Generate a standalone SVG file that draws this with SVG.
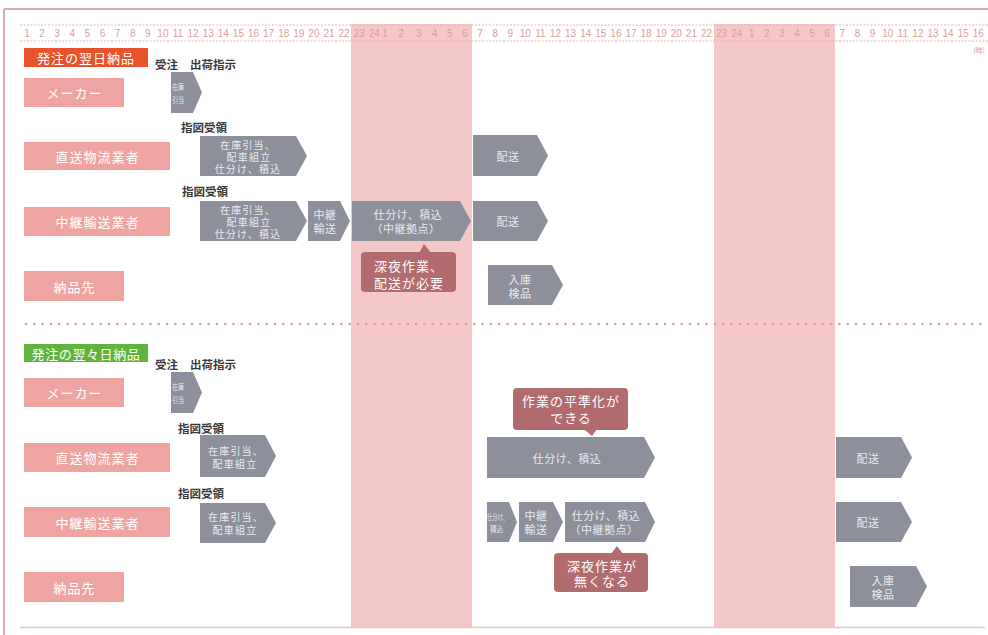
<svg xmlns="http://www.w3.org/2000/svg" width="988" height="635" viewBox="0 0 988 635">
<style>
text{font-family:"Noto Sans CJK JP","Noto Sans",sans-serif;dominant-baseline:central}
.rn{font-family:"Liberation Sans",Arial,sans-serif;font-size:10px;fill:#e39c9c;text-anchor:middle}
.lbl{fill:#eea4a0}
.lt{font-size:13px;fill:#fff;text-anchor:middle;letter-spacing:1px}
.ar{fill:#8d909b}
.at{font-size:11px;fill:#e8eaf0;text-anchor:middle;letter-spacing:0.5px}
.am{font-size:10px;fill:#e8eaf0;text-anchor:middle;letter-spacing:1.2px}
.as{font-size:8px;fill:#e8eaf0}
.co{fill:#b26b6e}
.ct{font-size:13px;fill:#fff;text-anchor:middle;letter-spacing:1px}
.hd{font-size:11.5px;fill:#3a3a3a;font-weight:bold}
.shade{fill:#f4c8c8}
</style>
<rect width="988" height="635" fill="#fff"/>
<!-- frame -->
<line x1="4" y1="9" x2="988" y2="9" stroke="#d9a9ab" stroke-width="2"/>
<line x1="4" y1="9" x2="4" y2="635" stroke="#d9a9ab" stroke-width="2"/>
<!-- night shading -->
<rect class="shade" x="351" y="24" width="121" height="603"/>
<rect class="shade" x="714" y="24" width="121" height="603"/>
<!-- ruler -->
<g id="ruler">
<line x1="20" y1="25" x2="988" y2="25" stroke="#e8b2b2" stroke-width="1" stroke-dasharray="2 1.5"/>
<line x1="20" y1="41" x2="988" y2="41" stroke="#e8b2b2" stroke-width="1" stroke-dasharray="2 1.5"/>
<text class="rn" x="27" y="33">1</text><text class="rn" x="42.1" y="33">2</text><text class="rn" x="57.2" y="33">3</text><text class="rn" x="72.3" y="33">4</text><text class="rn" x="87.4" y="33">5</text><text class="rn" x="102.5" y="33">6</text><text class="rn" x="117.6" y="33">7</text><text class="rn" x="132.7" y="33">8</text><text class="rn" x="147.8" y="33">9</text><text class="rn" x="162.9" y="33">10</text><text class="rn" x="178" y="33">11</text><text class="rn" x="193.1" y="33">12</text><text class="rn" x="208.2" y="33">13</text><text class="rn" x="223.3" y="33">14</text><text class="rn" x="238.4" y="33">15</text><text class="rn" x="253.5" y="33">16</text><text class="rn" x="268.6" y="33">17</text><text class="rn" x="283.7" y="33">18</text><text class="rn" x="298.8" y="33">19</text><text class="rn" x="313.9" y="33">20</text><text class="rn" x="329" y="33">21</text><text class="rn" x="344.1" y="33">22</text><text class="rn" x="359.2" y="33">23</text><text class="rn" x="374.3" y="33">24</text>
<text class="rn" x="385" y="33">1</text><text class="rn" x="401" y="33">2</text><text class="rn" x="419" y="33">3</text><text class="rn" x="434.7" y="33">4</text><text class="rn" x="449.8" y="33">5</text><text class="rn" x="464.9" y="33">6</text><text class="rn" x="480" y="33">7</text><text class="rn" x="495.1" y="33">8</text><text class="rn" x="510.2" y="33">9</text><text class="rn" x="525.3" y="33">10</text><text class="rn" x="540.4" y="33">11</text><text class="rn" x="555.5" y="33">12</text><text class="rn" x="570.6" y="33">13</text><text class="rn" x="585.7" y="33">14</text><text class="rn" x="600.8" y="33">15</text><text class="rn" x="615.9" y="33">16</text><text class="rn" x="631" y="33">17</text><text class="rn" x="646.1" y="33">18</text><text class="rn" x="661.2" y="33">19</text><text class="rn" x="676.3" y="33">20</text><text class="rn" x="691.4" y="33">21</text><text class="rn" x="706.5" y="33">22</text><text class="rn" x="721.6" y="33">23</text><text class="rn" x="736.7" y="33">24</text>
<text class="rn" x="751.8" y="33">1</text><text class="rn" x="766.9" y="33">2</text><text class="rn" x="782" y="33">3</text><text class="rn" x="797.1" y="33">4</text><text class="rn" x="812.2" y="33">5</text><text class="rn" x="827.3" y="33">6</text><text class="rn" x="842.4" y="33">7</text><text class="rn" x="857.5" y="33">8</text><text class="rn" x="872.6" y="33">9</text><text class="rn" x="887.7" y="33">10</text><text class="rn" x="902.8" y="33">11</text><text class="rn" x="917.9" y="33">12</text><text class="rn" x="933" y="33">13</text><text class="rn" x="948.1" y="33">14</text><text class="rn" x="963.2" y="33">15</text><text class="rn" x="978.3" y="33">16</text>
<text x="979" y="50" style="font-size:7px;fill:#d49a9a;text-anchor:middle">(時)</text>
</g>
<!-- section 1 -->
<g id="sec1-title"><rect x="24" y="48" width="124" height="19" fill="#e9532b"/><text class="lt" x="86" y="57.5">発注の翌日納品</text></g>
<g id="sec1-order"><text class="hd" x="155" y="64">受注</text><text class="hd" x="190" y="64">出荷指示</text></g>
<g id="s1-maker"><rect class="lbl" x="24" y="78" width="100" height="29"/><text class="lt" x="74.5" y="92.5">メーカー</text></g>
<g id="s1-direct"><rect class="lbl" x="24" y="142" width="146" height="28"/><text class="lt" x="97.5" y="156">直送物流業者</text></g>
<g id="s1-relay"><rect class="lbl" x="24" y="207" width="146" height="29"/><text class="lt" x="97.5" y="221.5">中継輸送業者</text></g>
<g id="s1-dest"><rect class="lbl" x="24" y="271" width="100" height="30"/><text class="lt" x="74.5" y="286">納品先</text></g>
<g id="s1-a-maker"><polygon class="ar" points="171,72 193,72 202,92.5 193,113 171,113"/><text class="as" x="172" y="86" textLength="12" lengthAdjust="spacingAndGlyphs">在庫</text><text class="as" x="172" y="99" textLength="12" lengthAdjust="spacingAndGlyphs">引当</text></g>
<g id="s1-recv1"><text class="hd" x="181" y="127">指図受領</text></g>
<g id="s1-a-direct1"><polygon class="ar" points="200,136 296,136 307,156 296,176 200,176"/><text class="am" x="248" y="144">在庫引当、</text><text class="am" x="249" y="156">配車組立</text><text class="am" x="248" y="168">仕分け、積込</text></g>
<g id="s1-a-direct2"><polygon class="ar" points="473,135 537,135 548,155.5 537,176 473,176"/><text class="at" x="508" y="155.5">配送</text></g>
<g id="s1-recv2"><text class="hd" x="182" y="191">指図受領</text></g>
<g id="s1-a-relay1"><polygon class="ar" points="200,201 296,201 307,221 296,241 200,241"/><text class="am" x="248" y="209">在庫引当、</text><text class="am" x="249" y="221">配車組立</text><text class="am" x="248" y="233">仕分け、積込</text></g>
<g id="s1-a-relay2"><polygon class="ar" points="308,201 340,201 350,221 340,241 308,241"/><text class="at" x="325" y="214">中継</text><text class="at" x="325" y="228">輸送</text></g>
<g id="s1-a-relay3"><polygon class="ar" points="352,201 460,201 471,221 460,241 352,241"/><text class="at" x="408" y="214">仕分け、積込</text><text class="at" x="406" y="228">（中継拠点）</text></g>
<g id="s1-a-relay4"><polygon class="ar" points="473,201 537,201 548,221 537,241 473,241"/><text class="at" x="508" y="221">配送</text></g>
<g id="s1-callout"><rect class="co" x="361" y="252" width="95" height="40" rx="4"/><polygon class="co" points="419,253 424,244 431,253"/><text class="ct" x="409" y="265">深夜作業、</text><text class="ct" x="409" y="282">配送が必要</text></g>
<g id="s1-a-dest"><polygon class="ar" points="488,265 552,265 563,285 552,305 488,305"/><text class="at" x="520" y="279">入庫</text><text class="at" x="520" y="293">検品</text></g>
<!-- separator -->
<line x1="26" y1="324" x2="988" y2="324" stroke="#e99a9a" stroke-width="2.6" stroke-linecap="round" stroke-dasharray="0 8.3"/>
<!-- section 2 -->
<g id="sec2-title"><rect x="24" y="344" width="124" height="18" fill="#5fb43d"/><text class="lt" x="86" y="353" style="letter-spacing:0.6px">発注の翌々日納品</text></g>
<g id="sec2-order"><text class="hd" x="155" y="364">受注</text><text class="hd" x="190" y="364">出荷指示</text></g>
<g id="s2-maker"><rect class="lbl" x="24" y="378" width="100" height="29"/><text class="lt" x="74.5" y="392.5">メーカー</text></g>
<g id="s2-direct"><rect class="lbl" x="24" y="443" width="146" height="29"/><text class="lt" x="97.5" y="457.5">直送物流業者</text></g>
<g id="s2-relay"><rect class="lbl" x="24" y="507" width="146" height="30"/><text class="lt" x="97.5" y="522">中継輸送業者</text></g>
<g id="s2-dest"><rect class="lbl" x="24" y="572" width="100" height="30"/><text class="lt" x="74.5" y="587">納品先</text></g>
<g id="s2-a-maker"><polygon class="ar" points="171,372 193,372 202,392.5 193,413 171,413"/><text class="as" x="172" y="386" textLength="12" lengthAdjust="spacingAndGlyphs">在庫</text><text class="as" x="172" y="399" textLength="12" lengthAdjust="spacingAndGlyphs">引当</text></g>
<g id="s2-recv1"><text class="hd" x="178" y="428">指図受領</text></g>
<g id="s2-a-direct1"><polygon class="ar" points="200,435 265,435 276,456 265,477 200,477"/><text class="am" x="236" y="450">在庫引当、</text><text class="am" x="235" y="463">配車組立</text></g>
<g id="s2-callout1"><rect class="co" x="513" y="388" width="115" height="42" rx="4"/><polygon class="co" points="584,429 592,436 597,429"/><text class="ct" x="571" y="400">作業の平準化が</text><text class="ct" x="571" y="417">できる</text></g>
<g id="s2-a-direct2"><polygon class="ar" points="487,437 644,437 655,457.5 644,478 487,478"/><text class="at" x="567" y="457.5">仕分け、積込</text></g>
<g id="s2-a-direct3"><polygon class="ar" points="836,437 901,437 912,457.5 901,478 836,478"/><text class="at" x="868" y="457.5">配送</text></g>
<g id="s2-recv2"><text class="hd" x="178" y="493">指図受領</text></g>
<g id="s2-a-relay1"><polygon class="ar" points="200,503 265,503 276,523 265,543 200,543"/><text class="am" x="236" y="516">在庫引当、</text><text class="am" x="235" y="529">配車組立</text></g>
<g id="s2-a-relay2"><polygon class="ar" points="487,502 509,502 517,522 509,542 487,542"/><text class="as" x="487" y="516" textLength="21" lengthAdjust="spacingAndGlyphs">仕分け、</text><text class="as" x="490" y="528" textLength="13" lengthAdjust="spacingAndGlyphs">積込</text></g>
<g id="s2-a-relay3"><polygon class="ar" points="519,502 553,502 563,522 553,542 519,542"/><text class="at" x="536" y="515">中継</text><text class="at" x="536" y="529">輸送</text></g>
<g id="s2-a-relay4"><polygon class="ar" points="565,502 645,502 655,522 645,542 565,542"/><text class="at" x="606" y="515">仕分け、積込</text><text class="at" x="604" y="529">（中継拠点）</text></g>
<g id="s2-a-relay5"><polygon class="ar" points="836,502 901,502 912,522 901,542 836,542"/><text class="at" x="868" y="522">配送</text></g>
<g id="s2-callout2"><rect class="co" x="554" y="553" width="94" height="39" rx="4"/><polygon class="co" points="611,554 617,546 623,554"/><text class="ct" x="602" y="565">深夜作業が</text><text class="ct" x="602" y="580">無くなる</text></g>
<g id="s2-a-dest"><polygon class="ar" points="850,566 916,566 927,586.5 916,607 850,607"/><text class="at" x="883" y="580">入庫</text><text class="at" x="883" y="594">検品</text></g>
<line x1="20" y1="627.5" x2="985" y2="627.5" stroke="#f0c2c2" stroke-width="1.5"/>
</svg>
